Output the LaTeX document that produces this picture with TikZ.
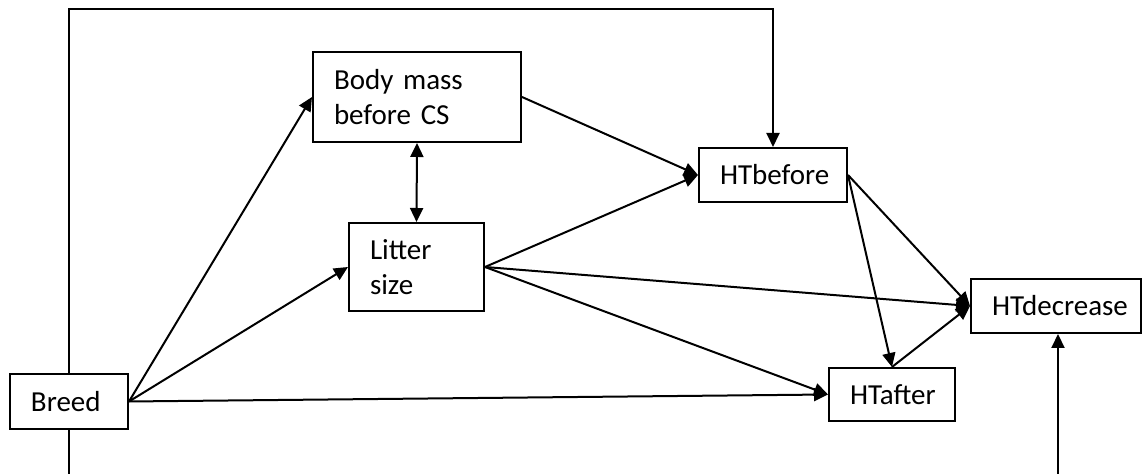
\documentclass[tikz,border=0pt]{standalone}
\usepackage{fontspec}
\setmainfont{Carlito}
\usetikzlibrary{arrows.meta}

\begin{document}
\begin{tikzpicture}[x=0.5pt,y=-0.5pt,
  box/.style={draw,line width=1pt,align=left,inner xsep=10.5pt,inner ysep=0pt,
    font=\fontsize{14.5}{17.5}\selectfont},
  arr/.style={line width=1pt,-{Triangle[length=7pt,width=6.5pt]}},
  arrboth/.style={line width=1pt,{Triangle[length=7pt,width=6.5pt]}-{Triangle[length=7pt,width=6.5pt]}}]
\useasboundingbox (0,0) rectangle (1142,474);
\foreach \nm/\x/\tw/\h/\l in{
breed/{(69,401.5)}/38/27.5/{Breed},
body/{(417,97)}/83/45/{Body mass\\before CS},
litter/{(416.5,267)}/46.5/44/{Litter\\size},
htb/{(773,175)}/53/27/{HTbefore},
hta/{(892,394.5)}/42/26.5/{HTafter},
htd/{(1056,306)}/64/27/{HTdecrease}
}
{
    \node[box,text width=\tw pt,minimum height=\h pt] (\nm) at \x {\l};
    }
\coordinate (tl) at (69,9);
\coordinate (bl) at (69,474);
\coordinate (br) at (1058,474);
\draw[arr] (breed.east) -- (body.west);
\draw[arr] (breed.east) -- (litter.west);
\draw[arr] (breed.east) -- (hta.west);
\draw[arrboth] (body.south) -- (litter.north);
\draw[arr] (body.east) -- (htb.west);
\draw[arr] (litter.east) -- (htb.west);
\draw[arr] (litter.east) -- (htd.west);
\draw[arr] (litter.east) -- (hta.west);
\draw[arr] (htb.east) -- (htd.west);
\draw[arr] (htb.east) -- (hta.north);
\draw[arr] (hta.north) -- (htd.west);
\draw[arr] (breed.north) -- (tl) -| (htb.north);
\draw[line width=1pt] (breed.south) -- (bl);
\draw[arr] (br) -- (br |- htd.south);
\end{tikzpicture}
\end{document}
